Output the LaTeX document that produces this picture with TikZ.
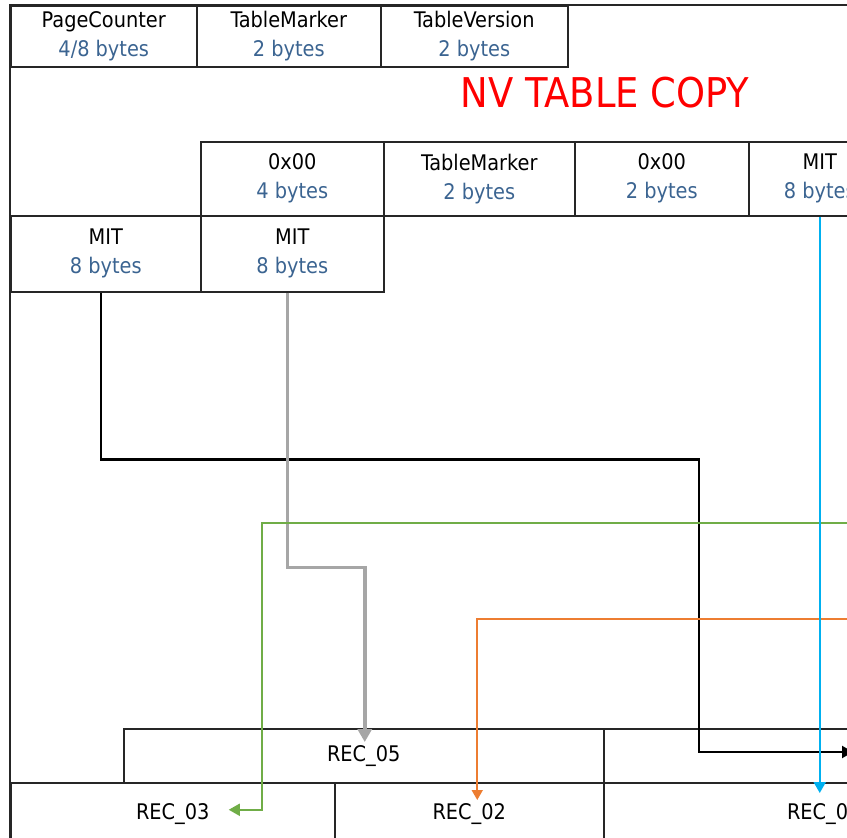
\documentclass[tikz,border=0pt]{standalone}
\usepackage{fontspec}
\setmainfont{DejaVu Sans Condensed}
\usepackage{tikz}
\usetikzlibrary{arrows.meta,positioning,calc}
\usepackage{xcolor}
\definecolor{bytesblue}{RGB}{59,100,145}
\definecolor{linkgreen}{RGB}{112,173,71}
\definecolor{linkorange}{RGB}{237,125,49}
\definecolor{linkcyan}{RGB}{0,176,240}
\definecolor{linkgray}{RGB}{166,166,166}
\newcommand{\field}[2]{#1\\\textcolor{bytesblue}{#2}}

\begin{document}
\begin{tikzpicture}[x=1pt, y=-1pt, font=\fontsize{21.5}{29}\selectfont,
  cell/.style={draw=black!85, line width=1.5pt, align=center, inner sep=0pt, anchor=north west},
  frame/.style={draw=black!85, line width=1.5pt},
  link/.style={-{Triangle[length=11pt,width=12pt]}},
  blk/.style={link, line width=2.2pt},
  gry/.style={-{Triangle[length=13pt,width=14pt]}, draw=linkgray, line width=3.5pt},
  grn/.style={link, draw=linkgreen, line width=1.8pt},
  org/.style={-{Triangle[length=10pt,width=11pt]}, draw=linkorange, line width=1.8pt},
  cyn/.style={link, draw=linkcyan, line width=2pt}]
\useasboundingbox (0,0) rectangle (847,838);
% outer frame
\draw[frame] (10,860) -- (10,5) -- (870,5);
% header fields
\node[cell, minimum width=186pt, minimum height=61pt] (pagectr) at (10,5) {\field{PageCounter}{4/8 bytes}};
\node[cell, minimum width=184pt, minimum height=61pt] (tblmarker) at (196,5) {\field{TableMarker}{2 bytes}};
\node[cell, minimum width=187pt, minimum height=61pt] (tblversion) at (380,5) {\field{TableVersion}{2 bytes}};
\node[text=red, font=\fontsize{41}{44}\selectfont] (title) at (605,93) {NV TABLE COPY};
% second row
\node[cell, minimum width=183pt, minimum height=74pt] (zero4) at (200,141) {\field{0x00}{4 bytes}};
\node[cell, minimum width=191pt, minimum height=74pt] (tblmarker2) at (383,141) {\field{TableMarker}{2 bytes}};
\node[cell, minimum width=174pt, minimum height=74pt] (zero2) at (574,141) {\field{0x00}{2 bytes}};
\node[cell, minimum width=142pt, minimum height=74pt] (mit3) at (748,141) {\field{MIT}{8 bytes}};
\node[cell, minimum width=190pt, minimum height=76pt] (mit1) at (10,215) {\field{MIT}{8 bytes}};
\node[cell, minimum width=183pt, minimum height=76pt] (mit2) at (200,215) {\field{MIT}{8 bytes}};
% records
\node[cell, minimum width=480pt, minimum height=54pt] (rec05) at (123,728) {REC\_05};
\node[cell, minimum width=300pt, minimum height=54pt] (rec04) at (603,728) {};
\node[cell, minimum width=324pt, minimum height=62pt] (rec03) at (10,782) {REC\_03};
\node[cell, minimum width=269pt, minimum height=62pt] (rec02) at (334,782) {REC\_02};
\node[cell, minimum width=440pt, minimum height=62pt] (rec01) at (603,782) {REC\_01};
% links
\coordinate (greenin) at (870,523);
\coordinate (orangein) at (870,619);
\coordinate (blackout) at (853,752);
\draw[blk] ([xshift=-5pt]mit1.south) -- ++(0,167) -- ++(598,0) |- (blackout);
\draw[gry] ([xshift=-5pt]mit2.south) -- ++(0,275) -| ($(rec05.north)+(1,14)$);
\draw[grn] (greenin) -| ($(rec03.center)+(89,-4)$) -- ($(rec03.center)+(56,-4)$);
\draw[org] (orangein) -| ($(rec02.north)+(8,18)$);
\draw[cyn] (mit3.south) -- ($(mit3.south |- rec01.north)+(0,11)$);
\end{tikzpicture}
\end{document}
